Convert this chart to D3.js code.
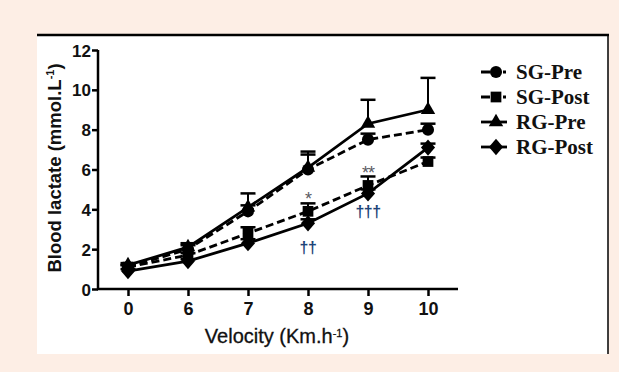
<!DOCTYPE html>
<html>
<head>
<meta charset="utf-8">
<script src="https://cdn.jsdelivr.net/npm/d3@7"></script>
<style>
  html, body { margin: 0; padding: 0; background: #fdeee5; }
  svg { display: block; }
</style>
</head>
<body>
<svg id="chart" width="619" height="372"></svg>
<script>
// velocity categories on the x axis
const velocities = ['0', '6', '7', '8', '9', '10'];
const yTicks = [0, 2, 4, 6, 8, 10, 12];

// mean blood lactate per group
const sgPre = [1.1, 2.0, 3.9, 6.0, 7.5, 8.0];
const sgPost = [1.1, 1.7, 2.8, 3.9, 5.2, 6.4];
const rgPre = [1.2, 2.1, 4.1, 6.1, 8.3, 9.0];
const rgPost = [0.9, 1.4, 2.3, 3.3, 4.8, 7.1];

// upper error bars (SD)
const sgPreErr = [0.1, 0.2, 0.3, 0.75, 0.3, 0.3];
const sgPostErr = [0.1, 0.1, 0.3, 0.4, 0.45, 0.2];
const rgPreErr = [0.1, 0.2, 0.7, 0.8, 1.2, 1.6];
const rgPostErr = [0.1, 0.1, 0.2, 0.2, 0.2, 0.2];

const seriesNames = ['SG-Pre', 'SG-Post', 'RG-Pre', 'RG-Post'];

// significance marks: [velocity, centre value, text, kind]
const marks = [
  ['8', 4.72, '*', 'star'],
  ['9', 6.05, '**', 'star'],
  ['8', 2.06, '††', 'dagger'],
  ['9', 3.84, '†††', 'dagger']
];

// rhombus a bit taller than wide, like the Prism diamond
const diamond = {
  draw(ctx, size) {
    const w = Math.sqrt(size) * 0.62;
    const h = w * 1.15;
    ctx.moveTo(0, -h);
    ctx.lineTo(w, 0);
    ctx.lineTo(0, h);
    ctx.lineTo(-w, 0);
    ctx.closePath();
  }
};

const series = [
  { name: seriesNames[0], values: sgPre, err: sgPreErr, dash: '8,4', symbol: d3.symbolCircle, size: 115 },
  { name: seriesNames[1], values: sgPost, err: sgPostErr, dash: '8,4', symbol: d3.symbolSquare, size: 115 },
  { name: seriesNames[2], values: rgPre, err: rgPreErr, dash: null, symbol: d3.symbolTriangle, size: 90 },
  { name: seriesNames[3], values: rgPost, err: rgPostErr, dash: null, symbol: diamond, size: 130 }
];

const svg = d3.select('#chart');

// white panel with black top and right border
svg.append('rect')
  .attr('x', 37).attr('y', 35)
  .attr('width', 571).attr('height', 319)
  .attr('fill', '#fff');
svg.append('line')
  .attr('x1', 37).attr('x2', 609).attr('y1', 35).attr('y2', 35)
  .attr('stroke', '#000').attr('stroke-width', 2.5);
svg.append('line')
  .attr('x1', 608).attr('x2', 608).attr('y1', 35).attr('y2', 354)
  .attr('stroke', '#000').attr('stroke-width', 1.5);

const x = d3.scalePoint()
  .domain(velocities)
  .range([98, 458])
  .padding(0.5);

const y = d3.scaleLinear()
  .domain([0, 12])
  .range([289, 50]);

// axes
const xAxis = svg.append('g')
  .attr('transform', `translate(0, ${y(0)})`)
  .call(d3.axisBottom(x).tickSize(7).tickSizeOuter(0));
const yAxis = svg.append('g')
  .attr('transform', `translate(98, 0)`)
  .call(d3.axisLeft(y).tickValues(yTicks).tickSize(6).tickSizeOuter(0));

[xAxis, yAxis].forEach(g => {
  g.select('.domain').attr('stroke', '#000').attr('stroke-width', 2.5);
  g.selectAll('.tick line').attr('stroke', '#000').attr('stroke-width', 2.5);
  g.selectAll('.tick text')
    .attr('fill', '#111')
    .style('font-family', 'Liberation Sans, Arial, sans-serif')
    .style('font-weight', 'bold');
});
xAxis.select('.domain').attr('d', 'M97,0H458');
xAxis.selectAll('.tick text').style('font-size', '18px').attr('y', 26).attr('dy', 0);
yAxis.select('.domain').attr('d', 'M0,50V290');
yAxis.selectAll('.tick text').style('font-size', '17px').attr('x', -7).attr('dy', '0.36em');

// axis titles
const yTitle = svg.append('text')
  .attr('transform', `translate(61, 168) rotate(-90)`)
  .attr('text-anchor', 'middle')
  .style('font-family', 'Liberation Sans, Arial, sans-serif')
  .style('font-size', '18.5px')
  .style('font-weight', 'bold')
  .attr('fill', '#111');
yTitle.append('tspan').text('Blood lactate (mmol.L');
yTitle.append('tspan').attr('dy', -7).style('font-size', '11px').text('-1');
yTitle.append('tspan').attr('dy', 7).text(')');

const xTitle = svg.append('text')
  .attr('x', 277).attr('y', 343)
  .attr('text-anchor', 'middle')
  .style('font-family', 'Liberation Sans, Arial, sans-serif')
  .style('font-size', '20px')
  .attr('fill', '#111')
  .attr('stroke', '#111')
  .attr('stroke-width', 0.3);
xTitle.append('tspan').text('Velocity (Km.h');
xTitle.append('tspan').attr('dy', -6).style('font-size', '11px').text('-1');
xTitle.append('tspan').attr('dy', 6).text(')');

const line = d3.line()
  .x((d, i) => x(velocities[i]))
  .y(d => y(d));

// error bars (upper only)
series.forEach(s => {
  const g = svg.append('g');
  s.values.forEach((v, i) => {
    const cx = x(velocities[i]);
    const top = y(v + s.err[i]);
    g.append('line')
      .attr('x1', cx).attr('x2', cx)
      .attr('y1', y(v)).attr('y2', top)
      .attr('stroke', '#000').attr('stroke-width', 2);
    g.append('line')
      .attr('x1', cx - 7.5).attr('x2', cx + 7.5)
      .attr('y1', top).attr('y2', top)
      .attr('stroke', '#000').attr('stroke-width', 2.5);
  });
});

// lines and markers
series.forEach(s => {
  svg.append('path')
    .datum(s.values)
    .attr('d', line)
    .attr('fill', 'none')
    .attr('stroke', '#000')
    .attr('stroke-width', 2.8)
    .attr('stroke-dasharray', s.dash);

  svg.append('g')
    .selectAll('path')
    .data(s.values)
    .join('path')
    .attr('transform', (d, i) => `translate(${x(velocities[i])}, ${y(d)})`)
    .attr('d', d3.symbol().type(s.symbol).size(s.size))
    .attr('fill', '#000');
});

// significance marks
svg.append('g')
  .selectAll('text')
  .data(marks)
  .join('text')
  .attr('x', d => x(d[0]))
  .attr('y', d => y(d[1]))
  .attr('dy', d => d[3] === 'star' ? '0.58em' : '0.3em')
  .attr('text-anchor', 'middle')
  .style('font-family', 'Liberation Sans, Arial, sans-serif')
  .style('font-size', d => d[3] === 'star' ? '18px' : '16px')
  .style('font-weight', d => d[3] === 'star' ? 'normal' : 'bold')
  .style('letter-spacing', d => d[3] === 'star' ? '-1px' : '-0.5px')
  .attr('fill', d => d[3] === 'star' ? '#5a5a62' : '#1d4478')
  .text(d => d[2]);

// legend
const legend = svg.append('g')
  .selectAll('g')
  .data(series)
  .join('g')
  .attr('transform', (d, i) => `translate(481, ${72 + i * 25})`);

legend.append('line')
  .attr('x1', 0).attr('x2', d => d.dash ? 25 : 26)
  .attr('stroke', '#000').attr('stroke-width', 2.8)
  .attr('stroke-dasharray', d => d.dash ? '9,13,3' : null);
legend.append('path')
  .attr('transform', 'translate(15, 0)')
  .attr('d', d => d3.symbol().type(d.symbol).size(d.size)())
  .attr('fill', '#000');
legend.append('text')
  .attr('x', 35).attr('dy', '0.35em')
  .style('font-family', 'Liberation Serif, Times New Roman, serif')
  .style('font-size', '21px')
  .style('font-weight', 'bold')
  .attr('fill', '#111')
  .text(d => d.name);
</script>
</body>
</html>
